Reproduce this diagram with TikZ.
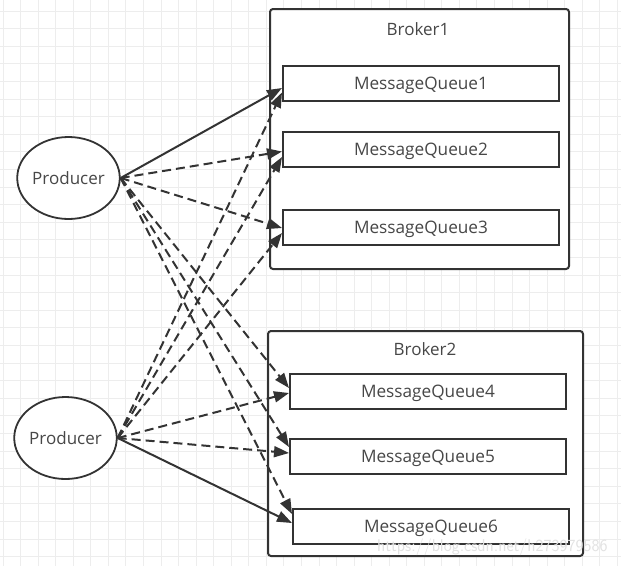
\documentclass[tikz,border=0pt]{standalone}
\usepackage{fontspec}
\setmainfont{Open Sans}
\usetikzlibrary{arrows.meta,shapes.geometric,calc}
\definecolor{ink}{HTML}{333333}
\definecolor{gridc}{HTML}{EDEDED}
\definecolor{wm}{HTML}{E2E2E2}
\tikzset{
  gridline/.style={draw=gridc, line width=0.8pt},
  prod/.style={ellipse, draw=ink, line width=1.8pt, fill=white, inner sep=0pt, text depth=0pt, font=\fontsize{17}{20}\selectfont, text=ink!90},
  broker/.style={draw=ink, line width=2pt, rounded corners=3pt, fill=white, inner sep=0pt},
  mq/.style={draw=ink, line width=2pt, fill=white, minimum width=276pt, minimum height=35pt, inner sep=0pt, text depth=0pt, font=\fontsize{17.2}{20}\selectfont, text=ink!90},
  blabel/.style={font=\fontsize{17}{20}\selectfont, text=ink!90, inner sep=0pt, text depth=0pt},
  conn/.style={draw=ink, line width=2pt, -{Triangle[length=15pt,width=11pt]}},
  dconn/.style={conn, dash pattern=on 9pt off 5pt},
}
\begin{document}
\begin{tikzpicture}[x=1pt,y=-1pt]
\useasboundingbox (0,0) rectangle (621,566);
\fill[white] (0,0) rectangle (621,566);
\foreach \i in {0,...,35} {
  \draw[gridline] ({3+17.55*\i},0) -- ({3+17.55*\i},566);
  \draw[gridline] (0,{11+17.6*\i}) -- (621,{11+17.6*\i});
}
% brokers
\node[broker, minimum width=299pt, minimum height=260pt] (b1) at (419.5,139) {};
\node[blabel] (b1l) at (418,29) {Broker1};
\node[broker, minimum width=315pt, minimum height=225pt] (b2) at (425.5,443.5) {};
\node[blabel] (b2l) at (425,349) {Broker2};
% queues
\node[mq] (q1) at (421,83.5) {MessageQueue1};
\node[mq] (q2) at (421,149.5) {MessageQueue2};
\node[mq] (q3) at (421,227.5) {MessageQueue3};
\node[mq] (q4) at (428,391.5) {MessageQueue4};
\node[mq] (q5) at (428,456) {MessageQueue5};
\node[mq] (q6) at (431,526) {MessageQueue6};
% producers
\node[prod, minimum width=99pt, minimum height=82pt] (p1) at (68.5,178) {Producer};
\node[prod, minimum width=101pt, minimum height=82pt] (p2) at (65.5,438) {Producer};
% connectors from producer 1
\draw[conn]  (p1.east) -- ($(q1.west)+(0,4.5)$);
\draw[dconn] (p1.east) -- ($(q2.west)+(0,2)$);
\draw[dconn] (p1.east) -- ($(q3.west)+(0,0.5)$);
\draw[dconn] (p1.east) -- ($(q4.west)+(0,-3.5)$);
\draw[dconn] (p1.east) -- ($(q5.west)+(0,-9)$);
\draw[dconn] (p1.east) -- ($(q6.west)+(0,-12)$);
% connectors from producer 2
\draw[dconn] (p2.east) -- ($(q1.west)+(0,9)$);
\draw[dconn] (p2.east) -- ($(q2.west)+(0,7.5)$);
\draw[dconn] (p2.east) -- ($(q3.west)+(0,5.5)$);
\draw[dconn] (p2.east) -- ($(q4.west)+(0,1.5)$);
\draw[dconn] (p2.east) -- ($(q5.west)+(0,-3)$);
\draw[conn]  (p2.east) -- ($(q6.west)+(0,-3)$);
% watermark
\node[font=\fontsize{17}{20}\selectfont\sffamily, text=wm, anchor=west, inner sep=0pt] (wmk) at (377,547) {https://blog.csdn.net/h273979586};
\end{tikzpicture}
\end{document}
